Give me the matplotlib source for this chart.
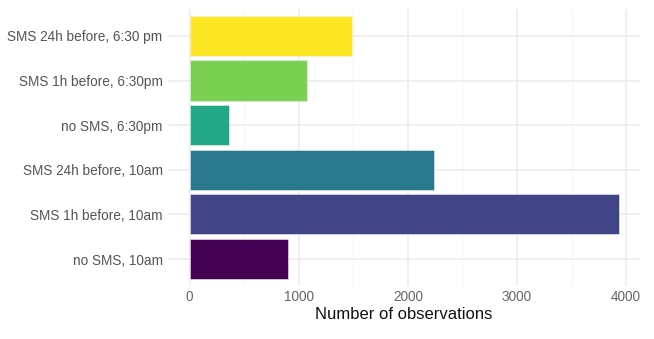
import matplotlib
matplotlib.use("Agg")
import matplotlib.pyplot as plt
from matplotlib.ticker import MultipleLocator

plt.rcParams["font.family"] = ["Liberation Sans", "DejaVu Sans"]

groups = ["no SMS, 10am", "SMS 1h before, 10am", "SMS 24h before, 10am",
          "no SMS, 6:30pm", "SMS 1h before, 6:30pm", "SMS 24h before, 6:30 pm"]
counts = [898, 3932, 2236, 364, 1078, 1484]
colors = ["#440154", "#414487", "#2A788E", "#22A884", "#7AD151", "#FDE725"]

fig = plt.figure(figsize=(6.54, 3.39), dpi=100)
ax = fig.add_axes([0.257, 0.157, 0.722, 0.816])

ypos = list(range(1, len(groups) + 1))
ax.barh(ypos, counts, height=0.9, color=colors, edgecolor="#F0F0F0", linewidth=0.4, zorder=3)

xmax = max(counts)
ax.set_xlim(-0.05 * xmax, 1.05 * xmax)
ax.set_ylim(0.4, len(groups) + 0.6)
ax.set_yticks(ypos)
ax.set_yticklabels(groups)
ax.xaxis.set_major_locator(MultipleLocator(1000))
ax.xaxis.set_minor_locator(MultipleLocator(500))

ax.grid(which="major", color="#EBEBEB", linewidth=1.1, zorder=0)
ax.grid(which="minor", axis="x", color="#F3F3F3", linewidth=0.6, zorder=0)
for s in ax.spines.values():
    s.set_visible(False)
ax.tick_params(which="both", length=0)
ax.tick_params(axis="y", labelsize=9.8, labelcolor="#555555", pad=4)
ax.tick_params(axis="x", labelsize=9.8, labelcolor="#666666", pad=3)
ax.set_xlabel("Number of observations", fontsize=12, color="#111111", labelpad=2)

fig.savefig("out.png", dpi=100)
